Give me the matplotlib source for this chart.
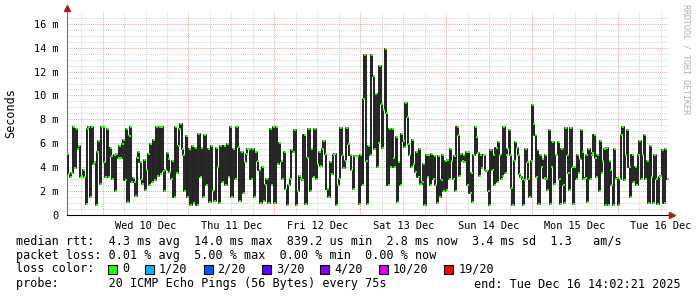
import matplotlib
matplotlib.use("Agg")
import matplotlib.pyplot as plt
from matplotlib.patches import Rectangle
import numpy as np
from datetime import datetime, timedelta

# median rtt in ms, one list per calendar day
dec09 = [5.1, 3.4, 3.2, 3.5, 7.4, 3.9, 7.2, 5.5, 5.8, 3.2, 3.3, 3.8, 3.2, 0.9, 7.2,
         7.4, 1.5, 7.4, 4.3, 4.4, 0.8, 5.3, 6.2, 2.6, 7.4]
dec10 = [7.4, 4.4, 3.2, 7.2, 3.2, 5.6, 4.9, 3.0, 5.0, 2.0, 5.1, 4.8, 5.8, 4.8, 5.9,
         6.3, 2.9, 7.2, 1.1, 6.6, 7.4, 2.8, 3.1, 2.8, 1.6, 4.8, 5.3, 4.4, 3.0, 2.6,
         4.6, 2.1, 3.8, 5.1, 2.5, 5.9, 2.8, 6.3, 2.9, 7.4, 3.3, 7.4, 3.4, 7.4, 3.7,
         2.0, 3.8, 5.2, 4.7, 3.6, 3.0, 4.5, 1.5, 7.4, 3.5, 5.8, 7.2, 7.6, 5.5, 5.0,
         2.0, 6.6, 1.5]
dec11 = [5.5, 0.8, 5.8, 1.0, 5.6, 0.8, 6.8, 3.2, 5.6, 1.5, 6.7, 2.5, 5.5, 1.1, 5.8,
         2.0, 1.2, 5.6, 4.0, 1.0, 5.8, 2.8, 5.8, 2.5, 5.9, 3.2, 7.4, 1.5, 5.5, 3.0,
         7.4, 5.7, 1.2, 5.3, 1.8, 4.4, 5.1, 5.5, 5.5, 3.0, 5.5, 1.5, 5.3, 4.5, 3.8,
         1.0, 4.0, 1.2, 2.5, 3.0, 1.0, 7.2, 2.5, 7.4]
dec12 = [1.0, 7.4, 4.3, 6.0, 4.5, 3.0, 5.3, 2.2, 0.8, 2.5, 3.0, 5.4, 5.3, 7.1, 0.8,
         2.0, 3.3, 3.0, 2.9, 6.7, 0.9, 4.8, 7.2, 2.0, 5.5, 3.2, 7.2, 3.0, 4.3, 5.3,
         4.1, 5.5, 6.2, 5.1, 2.2, 1.5, 4.4, 3.4, 5.0, 5.1, 0.8, 2.5, 3.0, 7.3, 5.0,
         3.9, 4.5, 7.3, 5.9, 5.0, 3.8, 2.2, 4.9, 4.9, 4.9, 0.9]
dec13 = [5.0, 2.5, 9.7, 13.4, 4.5, 0.9, 5.8, 5.0, 13.4, 11.6, 5.5, 10.1, 4.0, 6.0,
         12.5, 9.3, 5.6, 8.8, 13.9, 8.5, 2.5, 7.2, 4.0, 7.2, 4.8, 4.0, 6.5, 1.1, 4.4,
         2.5, 6.8, 6.2, 5.7, 9.4, 8.2, 5.9, 5.0, 4.0, 6.3, 4.3, 3.6, 5.3, 3.2, 5.5,
         2.6, 2.8, 4.3, 0.8, 5.0, 3.2, 5.0, 2.5, 5.1, 3.0, 4.9, 2.5, 1.0, 4.9, 1.5,
         2.9, 5.0, 2.0, 4.5]
dec14 = [2.1, 4.6, 3.0, 5.5, 4.5, 3.0, 4.9, 2.0, 7.4, 6.7, 3.3, 5.1, 4.5, 5.0, 4.4,
         5.3, 2.5, 5.3, 1.8, 3.5, 1.1, 5.0, 7.4, 6.5, 5.2, 3.3, 5.0, 3.9, 5.0, 5.0,
         3.8, 3.7, 2.0, 0.8, 5.4, 3.8, 5.0, 2.5, 5.6, 2.8, 6.1, 5.0, 3.0, 3.3, 7.4,
         3.5, 5.0, 5.5, 7.1, 5.0, 2.3, 0.8, 4.5, 6.1, 5.6, 5.0, 3.4, 3.2, 3.0, 0.8,
         2.9, 5.5, 4.4, 3.0, 1.5, 4.5]
dec15 = [9.2, 7.6, 6.7, 3.2, 5.4, 0.9, 5.0, 4.0, 4.7, 3.1, 5.0, 3.0, 2.1, 7.1, 0.9,
         4.0, 6.1, 2.6, 5.0, 5.0, 6.1, 3.0, 0.9, 5.5, 2.5, 1.0, 7.3, 5.0, 3.5, 2.1,
         7.3, 4.0, 0.9, 4.0, 3.0, 5.0, 3.5, 4.7, 7.1, 5.3, 3.0, 3.1, 5.0, 1.1, 5.5,
         3.0, 5.0, 5.2, 6.7, 4.8, 3.2, 5.0, 2.0, 6.2, 3.5, 4.5, 5.5, 0.8, 5.6, 0.8,
         4.5, 3.8, 2.5, 0.8, 5.5, 3.0, 3.1]
dec16 = [0.8, 3.0, 6.7, 7.4, 2.9, 5.0, 7.1, 4.0, 1.5, 5.0, 2.8, 4.0, 2.5, 5.0, 6.2,
         3.0, 5.0, 6.7, 3.0, 4.5, 1.0, 5.8, 3.2, 1.0, 5.0, 3.0, 0.9, 3.2, 3.3, 5.4,
         1.0, 5.5, 3.0]
days = [dec09, dec10, dec11, dec12, dec13, dec14, dec15, dec16]

loss_labels = ["0", "1/20", "2/20", "3/20", "4/20", "10/20", "19/20"]
loss_colors = ["#26ff00", "#00b8ff", "#0059ff", "#5e00ff", "#7e00ff", "#dd00ff", "#ff0000"]

end = datetime(2025, 12, 16, 14, 2, 21)
start = end - timedelta(days=7)

def hrs(t):
    return (t - start).total_seconds() / 3600.0

# day boundaries in hours since start
bounds = [0.0]
d = datetime(2025, 12, 10)
while d < end:
    bounds.append(hrs(d))
    d += timedelta(days=1)
bounds.append(hrs(end))

xs, ys = [], []
for i, vals in enumerate(days):
    t = np.linspace(bounds[i], bounds[i + 1], len(vals), endpoint=False)
    xs.extend(t)
    ys.extend(vals)
xs = np.array(xs)
ys = np.array(ys)

W, H = 697, 297
mono = "DejaVu Sans Mono"
fig = plt.figure(figsize=(W / 100, H / 100), dpi=100)
fig.patch.set_facecolor("white")
ax = fig.add_axes([67 / W, 82 / H, 601 / W, 202 / H])
ax.set_xlim(0, 168)
ax.set_ylim(0, 16.9)

# grid
for v in np.arange(0.5, 16.9, 0.5):
    major = abs(v % 2) < 1e-6
    ax.axhline(v, color="#e6a0a0" if major else "#cfcfcf", lw=0.7,
               ls=(0, (1, 1.2)), zorder=1)
g = datetime(2025, 12, 9, 18)
while g < end:
    ax.axvline(hrs(g), color="#e6a0a0" if g.hour == 0 else "#cfcfcf", lw=0.7,
               ls=(0, (1, 1.2)), zorder=1)
    g += timedelta(hours=6)

# median line + loss colour ticks
ax.step(xs, ys, where="post", color="#222222", lw=1.4, zorder=3)
ax.plot(xs + 0.3, ys, ls="none", marker="s", ms=1.9, mew=0, color=loss_colors[0], zorder=4)

for s in ["top", "right"]:
    ax.spines[s].set_visible(False)
ax.spines["left"].set_color("#707070")
ax.spines["bottom"].set_color("black")
ax.spines["left"].set_bounds(0, 17.4)
ax.plot([0], [17.3], marker="^", ms=4, color="#a02020", clip_on=False, zorder=5)
ax.plot([169.0], [0], marker=">", ms=4, color="#a02020", clip_on=False, zorder=5)
ax.plot([168, 169], [0, 0], color="black", lw=0.8, clip_on=False)

yt = list(range(0, 17, 2))
ax.set_yticks(yt)
ax.set_yticklabels(["0" if v == 0 else "%d m" % v for v in yt], fontfamily=mono, fontsize=7.4)
noons = []
labels = []
d = datetime(2025, 12, 10, 12)
while d < end:
    noons.append(hrs(d))
    labels.append(d.strftime("%a %d %b"))
    d += timedelta(days=1)
ax.set_xticks(noons)
ax.set_xticklabels(labels, fontfamily=mono, fontsize=7.4)
ax.tick_params(axis="both", length=0)
ax.tick_params(axis="y", pad=6)
ax.tick_params(axis="x", pad=4)

def px(x, y):
    return x / W, 1 - y / H

fig.text(*px(11, 113), "Seconds", rotation=90, ha="center", va="center",
         fontfamily=mono, fontsize=8.5)
fig.text(*px(686, 4), "RRDTOOL / TOBI OETIKER", rotation=270, ha="center", va="top",
         fontfamily=mono, fontsize=6.0, color="#b0b0b0")

fig.text(*px(16, 241), "median rtt:  4.3 ms avg  14.0 ms max  839.2 us min  2.8 ms now  3.4 ms sd  1.3   am/s",
         fontfamily=mono, fontsize=8.5, va="center")
fig.text(*px(16, 255), "packet loss: 0.01 % avg  5.00 % max  0.00 % min  0.00 % now",
         fontfamily=mono, fontsize=8.5, va="center")
fig.text(*px(16, 269), "loss color:", fontfamily=mono, fontsize=8.5, va="center")
bx = 108
for lab, col in zip(loss_labels, loss_colors):
    fig.patches.append(Rectangle(px(bx, 274), 9 / W, 9 / H, transform=fig.transFigure,
                                 facecolor=col, edgecolor="black", lw=0.8))
    fig.text(*px(bx + 14, 269), lab, fontfamily=mono, fontsize=8.5, va="center")
    bx += 14 + len(lab) * 7.1 + 16
fig.text(*px(16, 284), "probe:       20 ICMP Echo Pings (56 Bytes) every 75s",
         fontfamily=mono, fontsize=8.5, va="center")
fig.text(*px(681, 284), "end: " + end.strftime("%a %b %d %H:%M:%S %Y"),
         fontfamily=mono, fontsize=8.5, va="center", ha="right")

fig.savefig("out.png", dpi=100)
